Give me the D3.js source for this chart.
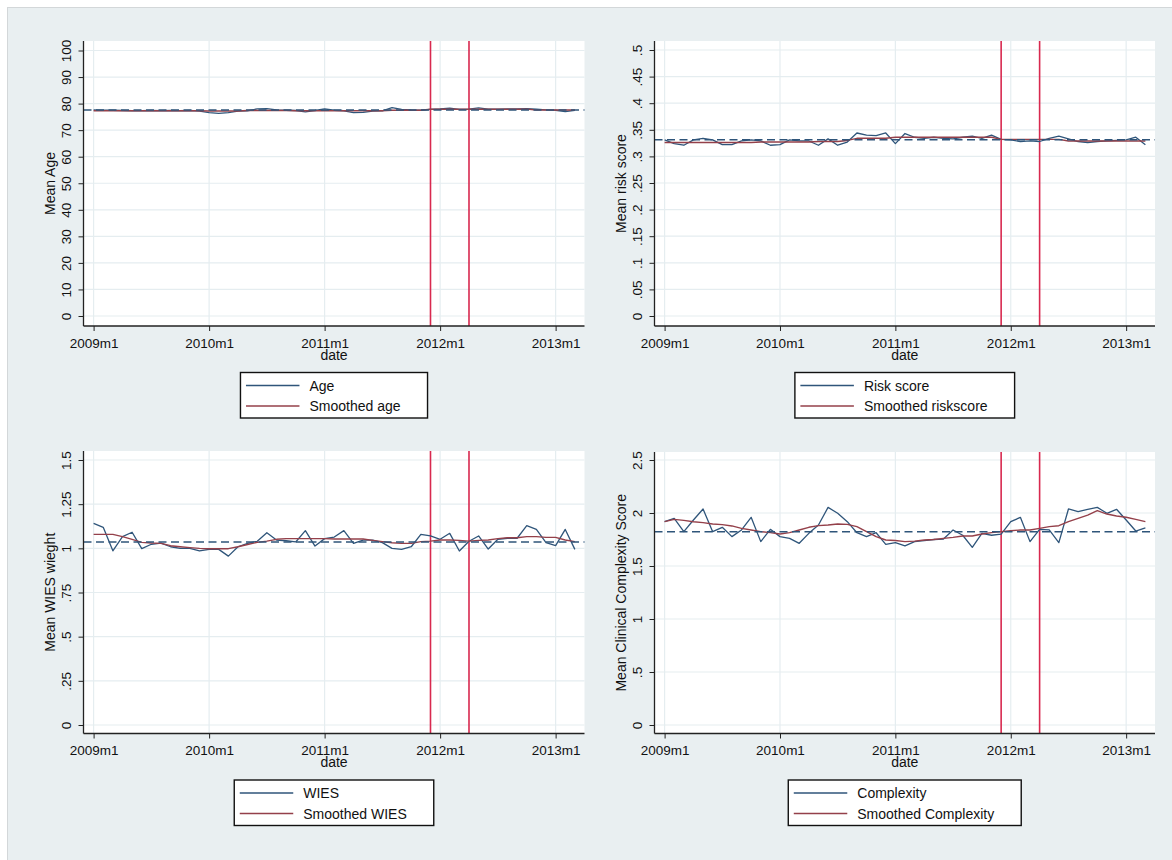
<!DOCTYPE html>
<html>
<head>
<meta charset="utf-8">
<script src="https://cdn.jsdelivr.net/npm/d3@7"></script>
<style>
  body { margin: 0; background: #fff; }
  svg { display: block; }
  text { font-family: "Liberation Sans", Arial, sans-serif; fill: #111; }
</style>
</head>
<body>
<svg id="chart" width="1172" height="860"></svg>
<script>
// months since 2009m1 (0 = 2009m1 ... 50 = 2013m3)
const months = d3.range(51);
const xTickMonths = [0, 12, 24, 36, 48];
const xTickLabels = ["2009m1", "2010m1", "2011m1", "2012m1", "2013m1"];
const xLineMonths = [35, 39]; // 2011m12, 2012m4

// Age
const age = [77.6,77.5,77.5,77.4,77.3,77.3,77.4,77.3,77.4,77.3,
             77.4,77.2,76.6,76.3,76.6,77.2,77.3,78.0,78.1,77.6,
             77.5,77.4,76.9,77.4,78.0,77.5,77.3,76.6,76.7,77.2,
             77.3,78.5,77.8,77.6,77.5,77.8,78.0,78.3,77.8,77.9,
             78.4,77.9,77.9,78.0,78.0,78.1,77.9,77.6,77.5,77.0,77.5];
const ageSmooth = [77.3,77.3,77.3,77.3,77.3,77.3,77.3,77.3,77.3,77.3,
                   77.3,77.3,77.2,77.2,77.2,77.2,77.4,77.4,77.4,77.4,
                   77.4,77.3,77.3,77.3,77.3,77.3,77.3,77.3,77.3,77.3,
                   77.3,77.5,77.5,77.5,77.5,77.9,77.9,77.9,77.9,77.9,
                   77.9,77.9,77.9,77.9,77.9,77.9,77.6,77.6,77.6,77.6,77.6];
const ageMean = 77.6;
const ageTicks = [0,10,20,30,40,50,60,70,80,90,100];
const ageTickLabels = ["0","10","20","30","40","50","60","70","80","90","100"];

// Risk score
const risk = [0.331,0.324,0.321,0.331,0.334,0.331,0.322,0.322,0.329,0.331,
              0.329,0.321,0.322,0.331,0.329,0.329,0.321,0.333,0.321,0.327,
              0.344,0.340,0.339,0.344,0.324,0.343,0.336,0.334,0.336,0.334,
              0.333,0.336,0.338,0.334,0.340,0.332,0.331,0.328,0.329,0.328,
              0.334,0.338,0.333,0.328,0.326,0.328,0.329,0.330,0.331,0.336,0.322];
const riskSmooth = [0.326,0.326,0.326,0.326,0.326,0.326,0.326,0.326,0.326,0.326,
                    0.327,0.327,0.327,0.327,0.327,0.327,0.328,0.328,0.328,0.330,
                    0.334,0.334,0.334,0.334,0.336,0.336,0.336,0.336,0.336,0.336,
                    0.336,0.336,0.336,0.336,0.336,0.332,0.332,0.332,0.332,0.332,
                    0.332,0.332,0.329,0.329,0.329,0.329,0.329,0.329,0.329,0.329,0.329];
const riskMean = 0.3315;
const riskTicks = [0,0.05,0.1,0.15,0.2,0.25,0.3,0.35,0.4,0.45,0.5];
const riskTickLabels = ["0",".05",".1",".15",".2",".25",".3",".35",".4",".45",".5"];

// WIES
const wies = [1.141,1.119,0.986,1.066,1.091,0.998,1.023,1.030,1.009,1.000,
              1.000,0.985,0.994,0.994,0.956,1.009,1.028,1.040,1.088,1.047,
              1.043,1.036,1.100,1.013,1.055,1.064,1.100,1.028,1.047,1.047,
              1.032,1.000,0.994,1.009,1.079,1.070,1.051,1.085,0.985,1.040,
              1.070,0.996,1.051,1.057,1.057,1.128,1.107,1.032,1.015,1.107,0.994];
const wiesSmooth = [1.079,1.079,1.079,1.066,1.051,1.034,1.030,1.028,1.015,1.009,
                    1.004,1.000,0.998,0.998,0.998,1.009,1.022,1.034,1.041,1.051,
                    1.055,1.055,1.055,1.055,1.055,1.053,1.053,1.053,1.053,1.045,
                    1.038,1.032,1.028,1.028,1.038,1.041,1.047,1.047,1.045,1.041,
                    1.045,1.047,1.055,1.060,1.060,1.066,1.066,1.062,1.062,1.047,1.038];
const wiesMean = 1.036;
const wiesTicks = [0,0.25,0.5,0.75,1,1.25,1.5];
const wiesTickLabels = ["0",".25",".5",".75","1","1.25","1.5"];

// Clinical complexity
const complexity = [1.918,1.950,1.824,1.934,2.038,1.824,1.865,1.777,1.840,1.959,
                    1.730,1.846,1.777,1.761,1.714,1.808,1.887,2.053,1.997,1.918,
                    1.814,1.777,1.814,1.704,1.720,1.689,1.730,1.740,1.750,1.754,
                    1.840,1.790,1.676,1.808,1.790,1.800,1.918,1.959,1.730,1.846,
                    1.840,1.720,2.038,2.013,2.035,2.053,1.997,2.035,1.934,1.830,1.860];
const complexitySmooth = [1.918,1.940,1.930,1.918,1.909,1.896,1.890,1.878,1.855,1.840,
                          1.824,1.815,1.802,1.815,1.840,1.865,1.881,1.887,1.896,1.893,
                          1.871,1.824,1.777,1.745,1.740,1.730,1.735,1.745,1.750,1.761,
                          1.770,1.783,1.783,1.802,1.815,1.824,1.832,1.840,1.840,1.855,
                          1.871,1.880,1.918,1.950,1.980,2.022,1.990,1.972,1.960,1.940,1.918];
const complexityMean = 1.824;
const complexityTicks = [0,0.5,1,1.5,2,2.5];
const complexityTickLabels = ["0",".5","1","1.5","2","2.5"];

// styles
var blue = "#2f557a", maroon = "#94404a", xlineColor = "#d8294f";
var gridColor = "#e5edf0", bgColor = "#e9eff1";

var svg = d3.select("#chart");

// outer background
svg.append("rect")
    .attr("x", 7.5).attr("y", 7.5)
    .attr("width", 1170).attr("height", 860)
    .attr("fill", bgColor)
    .attr("stroke", "#d3d7d9");

var panels = [
  {series: age, smooth: ageSmooth, mean: ageMean, ticks: ageTicks, labels: ageTickLabels,
   title: "Mean Age", legend: ["Age", "Smoothed age"],
   left: 83.5, right: 584.5, top: 41, bottom: 326, zeroPx: 316, maxPx: 50.5},
  {series: risk, smooth: riskSmooth, mean: riskMean, ticks: riskTicks, labels: riskTickLabels,
   title: "Mean risk score", legend: ["Risk score", "Smoothed riskscore"],
   left: 654.5, right: 1155, top: 41, bottom: 326, zeroPx: 316, maxPx: 50},
  {series: wies, smooth: wiesSmooth, mean: wiesMean, ticks: wiesTicks, labels: wiesTickLabels,
   title: "Mean WIES wieght", legend: ["WIES", "Smoothed WIES"],
   left: 83.5, right: 584.5, top: 451, bottom: 733.5, zeroPx: 725, maxPx: 460},
  {series: complexity, smooth: complexitySmooth, mean: complexityMean, ticks: complexityTicks, labels: complexityTickLabels,
   title: "Mean Clinical Complexity Score", legend: ["Complexity", "Smoothed Complexity"],
   left: 654.5, right: 1155, top: 452, bottom: 733.5, zeroPx: 725, maxPx: 460}
];

panels.forEach(drawPanel);

function drawPanel(p) {
  var g = svg.append("g");
  var x = d3.scaleLinear().domain([-1.05, 51]).range([p.left, p.right]);
  var y = d3.scaleLinear().domain([0, d3.max(p.ticks)]).range([p.zeroPx, p.maxPx]);

  //plot region
  g.append("rect")
      .attr("x", p.left).attr("y", p.top)
      .attr("width", p.right - p.left).attr("height", p.bottom - p.top)
      .attr("fill", "#fff");

  //grid lines
  g.selectAll(".hgrid")
      .data(p.ticks)
      .enter().append("line")
      .attr("x1", p.left).attr("x2", p.right)
      .attr("y1", d => y(d)).attr("y2", d => y(d))
      .attr("stroke", gridColor).attr("stroke-width", 1.2);
  g.selectAll(".vgrid")
      .data(xTickMonths)
      .enter().append("line")
      .attr("x1", d => x(d)).attr("x2", d => x(d))
      .attr("y1", p.top).attr("y2", p.bottom)
      .attr("stroke", gridColor).attr("stroke-width", 1.2);

  //vertical reference lines
  g.selectAll(".xline")
      .data(xLineMonths)
      .enter().append("line")
      .attr("x1", d => x(d)).attr("x2", d => x(d))
      .attr("y1", p.top).attr("y2", p.bottom)
      .attr("stroke", xlineColor).attr("stroke-width", 1.6);

  var line = d3.line()
      .x((d, i) => x(months[i]))
      .y(d => y(d));

  g.append("path")
      .attr("d", line(p.series))
      .attr("fill", "none").attr("stroke", blue)
      .attr("stroke-width", 1.3).attr("stroke-linejoin", "round");
  g.append("path")
      .attr("d", line(p.smooth))
      .attr("fill", "none").attr("stroke", maroon)
      .attr("stroke-width", 1.4).attr("stroke-linejoin", "round");

  //mean line
  g.append("line")
      .attr("x1", p.left).attr("x2", p.right)
      .attr("y1", y(p.mean)).attr("y2", y(p.mean))
      .attr("stroke", blue).attr("stroke-width", 1.5)
      .attr("stroke-dasharray", "8,4.5");

  //y axis
  var yAxis = d3.axisLeft(y)
      .tickValues(p.ticks)
      .tickFormat((d, i) => p.labels[i])
      .tickSize(5).tickSizeOuter(0);
  var ya = g.append("g")
      .attr("transform", "translate(" + p.left + ",0)")
      .call(yAxis);
  ya.select(".domain").remove();
  ya.selectAll("line").attr("stroke", "#222");
  ya.selectAll("text")
      .attr("x", 0).attr("dy", null)
      .attr("y", -12.5)
      .attr("transform", "rotate(-90)")
      .attr("text-anchor", "middle")
      .style("font-size", "13.5px")
      .attr("fill", "#111");

  //x axis
  var xAxis = d3.axisBottom(x)
      .tickValues(xTickMonths)
      .tickFormat((d, i) => xTickLabels[i])
      .tickSize(5).tickSizeOuter(0);
  var xa = g.append("g")
      .attr("transform", "translate(0," + p.bottom + ")")
      .call(xAxis);
  xa.select(".domain").remove();
  xa.selectAll("line").attr("stroke", "#222");
  xa.selectAll("text")
      .attr("y", 21.5).attr("dy", null)
      .style("font-size", "13.5px")
      .attr("fill", "#111");

  //axis lines
  g.append("line")
      .attr("x1", p.left).attr("x2", p.left)
      .attr("y1", p.top).attr("y2", p.bottom)
      .attr("stroke", "#222").attr("stroke-width", 1.3);
  g.append("line")
      .attr("x1", p.left).attr("x2", p.right)
      .attr("y1", p.bottom).attr("y2", p.bottom)
      .attr("stroke", "#222").attr("stroke-width", 1.3);

  //axis titles
  var midY = (p.top + p.bottom) / 2, midX = (p.left + p.right) / 2;
  g.append("text")
      .attr("transform", "translate(" + (p.left - 29) + "," + midY + ") rotate(-90)")
      .attr("text-anchor", "middle")
      .style("font-size", "14px")
      .text(p.title);
  g.append("text")
      .attr("x", midX).attr("y", p.bottom + 33.5)
      .attr("text-anchor", "middle")
      .style("font-size", "14px")
      .text("date");

  //legend
  var lg = g.append("g");
  var lTop = p.bottom + 46.5;
  var box = lg.append("rect")
      .attr("y", lTop).attr("height", 45.5)
      .attr("fill", "#fff").attr("stroke", "#111").attr("stroke-width", 1.4);
  var colors = [blue, maroon];
  var maxLen = 0;
  var items = [];
  p.legend.forEach((name, i) => {
    var cy = lTop + 13 + i * 20.5;
    var ln = lg.append("line")
        .attr("y1", cy).attr("y2", cy)
        .attr("stroke", colors[i]).attr("stroke-width", 1.4);
    var tx = lg.append("text")
        .attr("y", cy + 5)
        .style("font-size", "14px")
        .text(name);
    maxLen = Math.max(maxLen, tx.node().getComputedTextLength());
    items.push({ln: ln, tx: tx});
  });
  var boxW = 69 + maxLen + 27;
  var boxX = midX - boxW / 2;
  box.attr("x", boxX).attr("width", boxW);
  items.forEach(it => {
    it.ln.attr("x1", boxX + 5.5).attr("x2", boxX + 59);
    it.tx.attr("x", boxX + 69);
  });
}
</script>
</body>
</html>
